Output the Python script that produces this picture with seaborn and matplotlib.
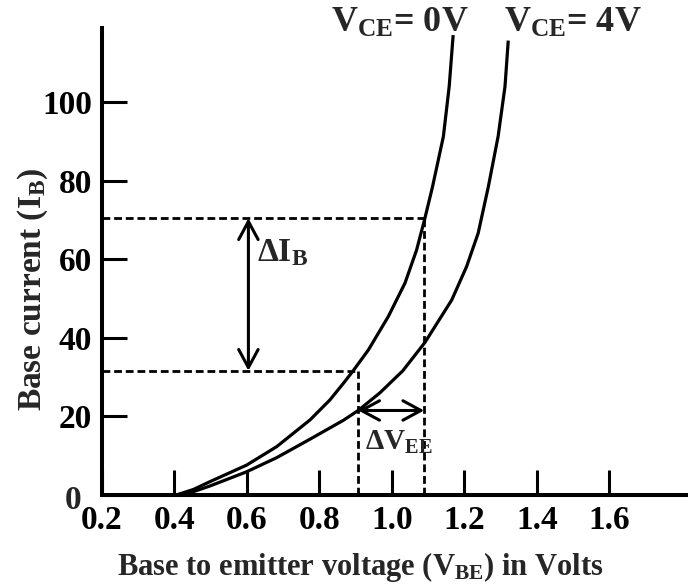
import numpy as np
import pandas as pd
import matplotlib
matplotlib.use("Agg")
import matplotlib.pyplot as plt
import seaborn as sns

# ---------------- data ----------------
vbe_0v = [0.405, 0.452, 0.498, 0.599, 0.682, 0.774, 0.829, 0.866, 0.893, 0.935,
          0.990, 1.036, 1.068, 1.091, 1.112, 1.142, 1.158, 1.169]
ib_0v = [0.0, 1.4, 3.4, 7.6, 12.3, 19.1, 24.2, 28.4, 31.6, 36.9,
         45.4, 53.9, 62.3, 70.4, 78.4, 91.2, 103.9, 117.0]

vbe_4v = [0.405, 0.452, 0.498, 0.599, 0.682, 0.774, 0.866, 0.907, 0.967, 1.030,
          1.091, 1.165, 1.206, 1.238, 1.266, 1.293, 1.312, 1.321]
ib_4v = [0.0, 0.85, 2.3, 5.9, 9.5, 14.2, 19.0, 21.5, 26.0, 31.6,
         38.8, 49.6, 58.1, 66.6, 78.4, 91.2, 103.9, 115.6]

curve_labels = [r"$\mathbf{V_{CE}}$= 0V", r"$\mathbf{V_{CE}}$= 4V"]

# operating points used for the delta construction
vbe_marks = [0.907, 1.089]
ib_marks = [31.6, 70.4]
delta_ib_x = 0.604
delta_v_y = 21.5

x_ticks = [0.2, 0.4, 0.6, 0.8, 1.0, 1.2, 1.4, 1.6]
x_tick_labels = ["0.2", "0.4", "0.6", "0.8", "1.0", "1.2", "1.4", "1.6"]
y_ticks = [0, 20, 40, 60, 80, 100]
y_tick_labels = ["", "20", "40", "60", "80", "100"]

x_label = r"Base to emitter voltage (V$_{\mathbf{BE}}$) in Volts"
y_label = r"Base current (I$_{\mathbf{B}}$)"

# ---------------- style ----------------
sns.set_style("ticks")
plt.rcParams["font.family"] = ["Liberation Serif", "DejaVu Serif"]
plt.rcParams["font.weight"] = "bold"
plt.rcParams["mathtext.fontset"] = "custom"
plt.rcParams["mathtext.rm"] = "Liberation Serif"
plt.rcParams["mathtext.bf"] = "Liberation Serif:bold"
plt.rcParams["mathtext.it"] = "Liberation Serif:italic"
plt.rcParams["mathtext.default"] = "bf"

df = pd.DataFrame({
    "vbe": vbe_0v + vbe_4v,
    "ib": ib_0v + ib_4v,
    "curve": ["0V"] * len(vbe_0v) + ["4V"] * len(vbe_4v),
})

fig = plt.figure(figsize=(6.88, 5.87), dpi=100)
ax = fig.add_axes([102 / 688, 92 / 587, 586 / 688, 467 / 587])

sns.lineplot(data=df, x="vbe", y="ib", hue="curve", palette=["black", "black"],
             estimator=None, legend=False, linewidth=2.3, ax=ax)
for ln in ax.get_lines():
    ln.set_solid_joinstyle("round")
    ln.set_solid_capstyle("butt")

ax.set_xlim(0.2, 1.817)
ax.set_ylim(0, 118.8)

# spines
sns.despine(ax=ax)
for s in ("left", "bottom"):
    ax.spines[s].set_linewidth(2.9)
    ax.spines[s].set_color("black")

ax.set_xticks(x_ticks)
ax.set_xticklabels(x_tick_labels)
ax.set_yticks(y_ticks)
ax.set_yticklabels(y_tick_labels)
ax.tick_params(axis="both", direction="in", length=18, width=2.2, color="black",
               labelsize=24, labelcolor="black")
ax.tick_params(axis="x", pad=7)
ax.tick_params(axis="y", pad=7)
for lab in ax.get_xticklabels() + ax.get_yticklabels():
    lab.set_fontweight("bold")

# the lone "0" at the origin
ax.text(0.12, -1.5, "0", fontsize=24, fontweight="bold", ha="center", va="center",
        clip_on=False)

ax.set_xlabel(x_label, fontsize=22, fontweight="bold", va="baseline")
ax.xaxis.set_label_coords(0.44, -0.172)
ax.set_ylabel(y_label, fontsize=24, fontweight="bold", va="center")
ax.yaxis.set_label_coords(-0.119, 0.441)

# dashed construction lines
dash_kw = dict(color="black", linewidth=2.0, linestyle=(0, (2.8, 1.4)))
ax.plot([0.2, vbe_marks[1]], [ib_marks[1], ib_marks[1]], **dash_kw)
ax.plot([0.2, vbe_marks[0]], [ib_marks[0], ib_marks[0]], **dash_kw)
ax.plot([vbe_marks[0], vbe_marks[0]], [0, ib_marks[0]], **dash_kw)
ax.plot([vbe_marks[1], vbe_marks[1]], [0, ib_marks[1]], **dash_kw)

# double arrows
arrow_kw = dict(arrowstyle="<->,head_length=0.65,head_width=0.35", lw=2.2,
                color="black", shrinkA=0, shrinkB=0, mutation_scale=20)
ax.annotate("", xy=(delta_ib_x, ib_marks[0]), xytext=(delta_ib_x, ib_marks[1]),
            arrowprops=arrow_kw)
ax.annotate("", xy=(vbe_marks[0], delta_v_y), xytext=(vbe_marks[1], delta_v_y),
            arrowprops=arrow_kw)

ax.text(0.627, 59.4, r"$\mathrm{\Delta}\mathbf{I}_{\mathbf{B}}$", fontsize=24,
        ha="left", va="baseline")
ax.text(0.925, 11.5, r"$\mathrm{\Delta V}_{\mathrm{EE}}$", fontsize=21,
        ha="left", va="baseline")

# curve labels
ax.text(0.832, 117.8, curve_labels[0], fontsize=26, fontweight="bold",
        ha="left", va="baseline", clip_on=False)
ax.text(1.309, 117.8, curve_labels[1], fontsize=26, fontweight="bold",
        ha="left", va="baseline", clip_on=False)

fig.savefig("out.png", dpi=100)
